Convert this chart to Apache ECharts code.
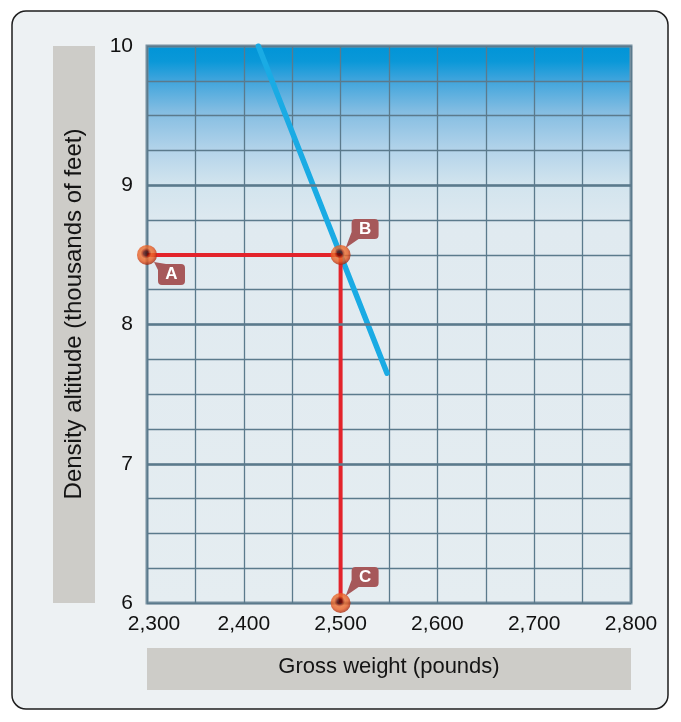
<!DOCTYPE html>
<html>
<head>
<meta charset="utf-8">
<title>Density altitude vs gross weight</title>
<script src="https://cdn.jsdelivr.net/npm/echarts@6/dist/echarts.min.js"></script>
<style>
    html, body { margin: 0; padding: 0; background: #ffffff; }
    #main { width: 681px; height: 722px; }
</style>
</head>
<body>
<div id="main"></div>
<script>
// axis ranges and labels
var weightMin = 2300, weightMax = 2800;
var altMin = 6, altMax = 10;
var altMajor = [7, 8, 9];
var xTitle = 'Gross weight (pounds)';
var yTitle = 'Density altitude (thousands of feet)';

// performance line (blue)
var perfWeight = [2415, 2548];
var perfAlt = [10, 7.65];

// reading path (red): A -> B -> C
var pathWeight = [2300, 2500, 2500];
var pathAlt = [8.5, 8.5, 6];

// lettered points
var pointNames = ['A', 'B', 'C'];
var pointWeight = [2300, 2500, 2500];
var pointAlt = [8.5, 8.5, 6];

function fmtWeight(v) {
    return String(v).replace(/(\d)(\d{3})$/, '$1,$2');
}

function zip(xs, ys) {
    var out = [];
    for (var i = 0; i < xs.length; i++) out.push([xs[i], ys[i]]);
    return out;
}

// callout bubble shapes: tail down-left (above the point) or tail up-left (below the point)
var calloutUp = 'path://M10 0 L29 0 Q33 0 33 4 L33 16 Q33 20 29 20 L13 20 L0 29 L6 13 L6 4 Q6 0 10 0 Z';
var calloutDown = 'path://M0 0 L12 2 L27 2 Q31 2 31 6 L31 19 Q31 23 27 23 L8 23 Q4 23 4 19 L4 8 Z';

var callouts = [];
for (var i = 0; i < pointNames.length; i++) {
    var below = pointNames[i] === 'A';
    callouts.push({
        name: pointNames[i],
        value: [pointWeight[i], pointAlt[i]],
        symbol: below ? calloutDown : calloutUp,
        symbolSize: below ? [31, 23] : [33, 29],
        symbolOffset: below ? [22.5, 18.5] : [21.5, -21.5],
        label: { offset: below ? [2, 1] : [3, -4.5] }
    });
}

var majorLines = [];
for (var j = 0; j < altMajor.length; j++) majorLines.push({ yAxis: altMajor[j] });

var sphere = {
    type: 'radial', x: 0.45, y: 0.42, r: 0.6,
    colorStops: [
        { offset: 0, color: '#3a0604' },
        { offset: 0.2, color: '#5e0d06' },
        { offset: 0.3, color: '#b0300f' },
        { offset: 0.45, color: '#ec7030' },
        { offset: 0.68, color: '#e85e24' },
        { offset: 0.86, color: '#c43c16' },
        { offset: 1, color: '#922410' }
    ]
};

var myChart = echarts.init(document.getElementById('main'));

var options = {
    backgroundColor: '#ffffff',
    textStyle: { fontFamily: 'Liberation Sans' },
    graphic: [
        {
            type: 'rect', z: -10,
            shape: { x: 12, y: 11, width: 656, height: 698, r: 14 },
            style: { fill: '#edf1f3', stroke: '#1e1e1e', lineWidth: 1.5 }
        },
        {
            type: 'rect', z: -9,
            shape: { x: 53, y: 46, width: 42, height: 557 },
            style: { fill: '#cdccc8' }
        },
        {
            type: 'rect', z: -9,
            shape: { x: 147, y: 648, width: 484, height: 42 },
            style: { fill: '#cdccc8' }
        },
        {
            type: 'text', z: 10,
            x: 74, y: 314,
            rotation: Math.PI / 2,
            style: {
                text: yTitle,
                fontSize: 24,
                fontFamily: 'Liberation Sans',
                fill: '#141414',
                align: 'center',
                verticalAlign: 'middle'
            }
        },
        {
            type: 'text', z: 10,
            x: 389, y: 667,
            style: {
                text: xTitle,
                fontSize: 22,
                fontFamily: 'Liberation Sans',
                fill: '#141414',
                align: 'center',
                verticalAlign: 'middle'
            }
        }
    ],
    grid: {
        show: true,
        left: 147,
        right: 50,
        top: 46,
        bottom: 119,
        borderColor: '#7892a2',
        borderWidth: 3,
        backgroundColor: {
            type: 'linear', x: 0, y: 0, x2: 0, y2: 1,
            colorStops: [
                { offset: 0, color: '#0094d7' },
                { offset: 0.03, color: '#0a98d8' },
                { offset: 0.06, color: '#3aa3dc' },
                { offset: 0.12, color: '#84bde2' },
                { offset: 0.19, color: '#b4d4ea' },
                { offset: 0.25, color: '#d2e4ee' },
                { offset: 0.33, color: '#e0eaf0' },
                { offset: 1, color: '#e5edf1' }
            ]
        }
    },
    xAxis: {
        type: 'value',
        min: weightMin,
        max: weightMax,
        interval: 50,
        axisLine: { show: false },
        axisTick: { show: false },
        splitLine: { lineStyle: { color: '#5b7a8c', width: 1.3 } },
        axisLabel: {
            fontSize: 21,
            color: '#111111',
            margin: 11,
            formatter: function (v) {
                if (v % 100 !== 0) return '';
                if (v === weightMin) return '{first|' + fmtWeight(v) + '}';
                return fmtWeight(v);
            },
            rich: { first: { fontSize: 21, color: '#111111', padding: [0, 0, 0, 14] } }
        }
    },
    yAxis: {
        type: 'value',
        min: altMin,
        max: altMax,
        interval: 0.25,
        axisLine: { show: false },
        axisTick: { show: false },
        splitLine: { lineStyle: { color: '#5b7a8c', width: 1.3 } },
        axisLabel: {
            fontSize: 21,
            color: '#111111',
            margin: 14,
            formatter: function (v) {
                return v % 1 === 0 ? String(v) : '';
            }
        }
    },
    series: [
        {
            name: 'major',
            type: 'line',
            data: [],
            z: 2,
            markLine: {
                silent: true,
                symbol: 'none',
                label: { show: false },
                lineStyle: { color: '#5b7a8c', width: 2.6, type: 'solid' },
                data: majorLines
            }
        },
        {
            name: 'perf',
            type: 'line',
            data: zip(perfWeight, perfAlt),
            symbol: 'none',
            clip: false,
            lineStyle: { color: '#1aabe4', width: 5.5, cap: 'round' },
            z: 3
        },
        {
            name: 'path',
            type: 'line',
            data: zip(pathWeight, pathAlt),
            symbol: 'none',
            clip: false,
            lineStyle: { color: '#e3232b', width: 4 },
            z: 4
        },
        {
            name: 'callouts',
            type: 'scatter',
            data: callouts,
            clip: false,
            itemStyle: { color: '#a6585a', opacity: 1 },
            label: {
                show: true,
                position: 'inside',
                formatter: '{b}',
                color: '#ffffff',
                fontSize: 17,
                fontWeight: 'bold'
            },
            z: 5
        },
        {
            name: 'points',
            type: 'scatter',
            data: zip(pointWeight, pointAlt),
            symbol: 'circle',
            symbolSize: 20,
            clip: false,
            itemStyle: { color: sphere },
            z: 6
        }
    ]
};

myChart.setOption(options);
</script>
</body>
</html>
